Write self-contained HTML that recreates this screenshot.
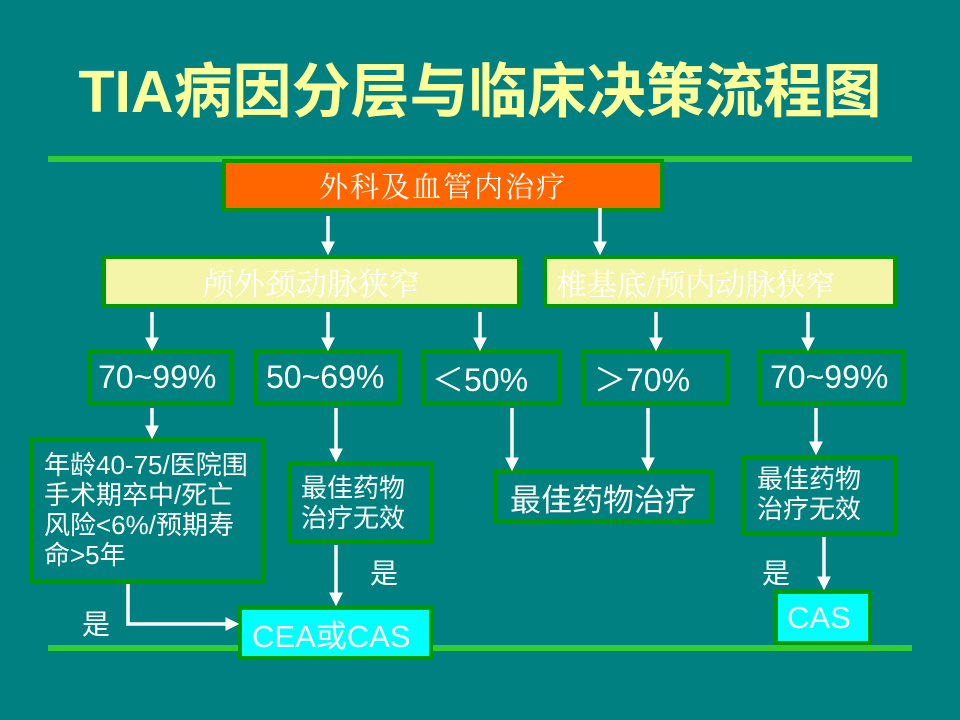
<!DOCTYPE html>
<html><head><meta charset="utf-8"><style>
body{margin:0;width:960px;height:720px;background:#008080;position:relative;overflow:hidden;font-family:"Liberation Sans","Noto Sans CJK SC",sans-serif;color:#fff}
.b{position:absolute;box-sizing:border-box;border:4px solid #009900;display:flex;align-items:center}
.t{position:absolute;white-space:nowrap}
.serif{font-family:"Liberation Serif","Noto Serif CJK SC",serif}
</style></head><body>
<div class="t" style="left:0;width:960px;top:56px;text-align:center;font-size:59px;font-weight:bold;color:#ffff99;line-height:72px">TIA病因分层与临床决策流程图</div>
<div style="position:absolute;left:48px;top:156px;width:864px;height:6px;background:#33cc33"></div>
<div style="position:absolute;left:48px;top:645px;width:864px;height:6px;background:#33cc33"></div>

<div class="b serif" style="left:222px;top:159px;width:442px;height:53px;background:#ff6600;justify-content:center;font-size:29px;letter-spacing:2px">外科及血管内治疗</div>
<div class="b serif" style="left:102px;top:255px;width:419px;height:53px;background:#f5f5aa;justify-content:center;font-size:31px">颅外颈动脉狭窄</div>
<div class="b serif" style="left:543px;top:255px;width:354px;height:53px;background:#f5f5aa;padding-left:10px;font-size:30px">椎基底/颅内动脉狭窄</div>

<div class="b" style="left:87px;top:350px;width:146px;height:55px;padding-left:7px;font-size:32px">70~99%</div>
<div class="b" style="left:254px;top:350px;width:147px;height:55px;padding-left:8px;font-size:32px">50~69%</div>
<div class="b" style="left:422px;top:350px;width:139px;height:55px;padding-left:6px;font-size:32px">＜50%</div>
<div class="b" style="left:582px;top:350px;width:147px;height:55px;padding-left:8px;font-size:32px">＞70%</div>
<div class="b" style="left:758px;top:350px;width:147px;height:55px;padding-left:8px;font-size:32px">70~99%</div>

<div class="b" style="left:30px;top:438px;width:235px;height:145px;padding:8px 0 0 10px;align-items:flex-start;font-size:26px;line-height:30px">年龄40-75/医院围<br>手术期卒中/死亡<br>风险&lt;6%/预期寿<br>命&gt;5年</div>
<div class="b" style="left:287px;top:462px;width:146px;height:81px;padding-left:10px;font-size:26px;line-height:30px">最佳药物<br>治疗无效</div>
<div class="b" style="left:494px;top:470px;width:219px;height:54px;padding-left:12px;font-size:31px">最佳药物治疗</div>
<div class="b" style="left:742px;top:455px;width:155px;height:80px;padding-left:11px;font-size:26px;line-height:30px;align-items:flex-start;padding-top:5px">最佳药物<br>治疗无效</div>

<div class="b" style="left:238px;top:606px;width:195px;height:54px;background:#00ffff;padding-left:10px;font-size:31px">CEA或CAS</div>
<div class="b" style="left:774px;top:590px;width:98px;height:55px;background:#00ffff;padding-left:9px;font-size:31px">CAS</div>

<div class="t" style="left:370px;top:552px;font-size:28px">是</div>
<div class="t" style="left:82px;top:603px;font-size:28px">是</div>
<div class="t" style="left:762px;top:552px;font-size:28px">是</div>

<svg width="960" height="720" style="position:absolute;left:0;top:0" fill="#fff" stroke="#fff">
<defs><marker id="a" markerWidth="4" markerHeight="4" refX="2.5" refY="2" orient="auto" markerUnits="strokeWidth"><path d="M0,0L4,2L0,4z" stroke="none"/></marker></defs>
<g stroke-width="3.5" fill="none" marker-end="url(#a)">
<line x1="328" y1="216" x2="328" y2="250"/>
<line x1="600" y1="208" x2="600" y2="250"/>
<line x1="152" y1="312" x2="152" y2="346"/>
<line x1="328" y1="312" x2="328" y2="346"/>
<line x1="480" y1="312" x2="480" y2="346"/>
<line x1="656" y1="312" x2="656" y2="346"/>
<line x1="808" y1="312" x2="808" y2="346"/>
<line x1="152" y1="408" x2="152" y2="434"/>
<line x1="336" y1="408" x2="336" y2="457"/>
<line x1="512" y1="408" x2="512" y2="466"/>
<line x1="648" y1="408" x2="648" y2="466"/>
<line x1="816" y1="408" x2="816" y2="450"/>
<line x1="336" y1="545" x2="336" y2="601"/>
<line x1="824" y1="537" x2="824" y2="585"/>
<polyline points="128,584 128,624 234,624"/>
</g></svg>
</body></html>
